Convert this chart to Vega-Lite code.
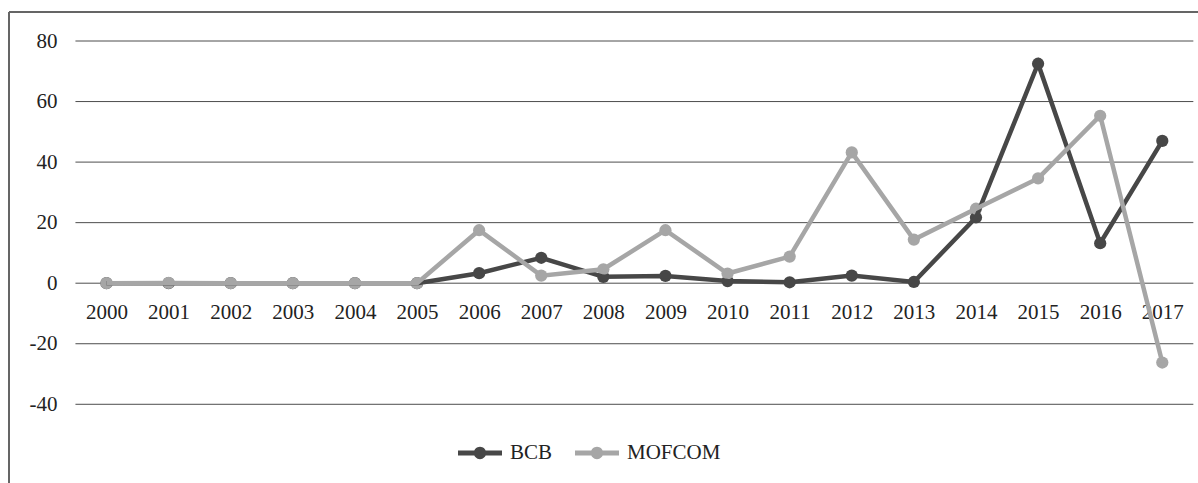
{
  "$schema": "https://vega.github.io/schema/vega-lite/v6.json",
  "width": 1189,
  "height": 471,
  "autosize": "none",
  "padding": {"left": 9, "top": 12, "right": 0, "bottom": 0},
  "background": "white",
  "config": {"view": {"stroke": null}, "font": "Liberation Serif"},
  "data": {"values": [
    {"year": 2000, "series": "BCB", "value": 0},
    {"year": 2001, "series": "BCB", "value": 0},
    {"year": 2002, "series": "BCB", "value": 0},
    {"year": 2003, "series": "BCB", "value": 0},
    {"year": 2004, "series": "BCB", "value": 0},
    {"year": 2005, "series": "BCB", "value": 0},
    {"year": 2006, "series": "BCB", "value": 3.3},
    {"year": 2007, "series": "BCB", "value": 8.4},
    {"year": 2008, "series": "BCB", "value": 2.1},
    {"year": 2009, "series": "BCB", "value": 2.4},
    {"year": 2010, "series": "BCB", "value": 0.7},
    {"year": 2011, "series": "BCB", "value": 0.3},
    {"year": 2012, "series": "BCB", "value": 2.5},
    {"year": 2013, "series": "BCB", "value": 0.4},
    {"year": 2014, "series": "BCB", "value": 21.7},
    {"year": 2015, "series": "BCB", "value": 72.5},
    {"year": 2016, "series": "BCB", "value": 13.2},
    {"year": 2017, "series": "BCB", "value": 47.0},
    {"year": 2000, "series": "MOFCOM", "value": 0},
    {"year": 2001, "series": "MOFCOM", "value": 0.1},
    {"year": 2002, "series": "MOFCOM", "value": 0},
    {"year": 2003, "series": "MOFCOM", "value": 0},
    {"year": 2004, "series": "MOFCOM", "value": 0},
    {"year": 2005, "series": "MOFCOM", "value": 0},
    {"year": 2006, "series": "MOFCOM", "value": 17.5},
    {"year": 2007, "series": "MOFCOM", "value": 2.5},
    {"year": 2008, "series": "MOFCOM", "value": 4.6},
    {"year": 2009, "series": "MOFCOM", "value": 17.5},
    {"year": 2010, "series": "MOFCOM", "value": 3.2},
    {"year": 2011, "series": "MOFCOM", "value": 8.8},
    {"year": 2012, "series": "MOFCOM", "value": 43.2},
    {"year": 2013, "series": "MOFCOM", "value": 14.4},
    {"year": 2014, "series": "MOFCOM", "value": 24.6},
    {"year": 2015, "series": "MOFCOM", "value": 34.6},
    {"year": 2016, "series": "MOFCOM", "value": 55.3},
    {"year": 2017, "series": "MOFCOM", "value": -26.2}
  ]},
  "layer": [
    {
      "data": {"values": [{"g": -40}, {"g": -20}, {"g": 0}, {"g": 20}, {"g": 40}, {"g": 60}, {"g": 80}]},
      "mark": {"type": "rule", "color": "#4d4d4d", "strokeWidth": 1},
      "encoding": {
        "y": {"field": "g", "type": "quantitative",
          "scale": {"domain": [-66.0, 89.58], "nice": false, "zero": false},
          "axis": {"values": [-40, -20, 0, 20, 40, 60, 80], "labelExpr": "'' + datum.value", "domain": false, "ticks": false, "tickSize": 0, "grid": false,
            "labelPadding": -48, "labelAlign": "right", "labelFontSize": 21, "labelColor": "#222222", "labelFont": "Liberation Serif", "title": null}},
        "x": {"datum": 1999.5, "type": "quantitative", "scale": {"domain": [1998.43, 2017.575], "nice": false, "zero": false}},
        "x2": {"datum": 2017.5}
      }
    },
    {
      "mark": {"type": "rule", "color": "#666666", "strokeWidth": 1.5},
      "encoding": {
        "y": {"datum": 89.58, "type": "quantitative", "scale": {"domain": [-66.0, 89.58], "nice": false, "zero": false}}
      }
    },
    {
      "mark": {"type": "rule", "color": "#666666", "strokeWidth": 1.5},
      "encoding": {
        "x": {"datum": 1998.43, "type": "quantitative", "scale": {"domain": [1998.43, 2017.575], "nice": false, "zero": false}}
      }
    },
    {
      "mark": {"type": "point", "filled": true, "size": 150, "opacity": 1},
      "encoding": {
        "x": {"field": "year", "type": "quantitative",
          "scale": {"domain": [1998.43, 2017.575], "nice": false, "zero": false},
          "axis": {"values": [2000, 2001, 2002, 2003, 2004, 2005, 2006, 2007, 2008, 2009, 2010, 2011, 2012, 2013, 2014, 2015, 2016, 2017],
            "format": "d", "domain": false, "ticks": false, "tickSize": 0, "grid": false, "offset": -200,
            "labelPadding": 35, "labelBaseline": "alphabetic", "labelFontSize": 21, "labelColor": "#222222", "labelFont": "Liberation Serif",
            "labelOverlap": false, "labelFlush": false, "title": null}},
        "y": {"field": "value", "type": "quantitative", "scale": {"domain": [-66.0, 89.58], "nice": false, "zero": false}},
        "color": {"field": "series", "type": "nominal",
          "scale": {"domain": ["BCB", "MOFCOM"], "range": ["#474747", "#a6a6a6"]},
          "legend": {"orient": "none", "legendX": 449, "legendY": 419, "direction": "horizontal", "title": null,
            "symbolType": "M-1,-0.11L1,-0.11L1,0.11L-1,0.11Z M-0.28,0A0.28,0.28,0,1,1,0.28,0A0.28,0.28,0,1,1,-0.28,0Z",
            "symbolSize": 1936, "symbolStrokeWidth": 0, "symbolOpacity": 1,
            "labelFontSize": 21, "labelFont": "Liberation Serif", "labelColor": "#222222", "labelOffset": 8, "columnPadding": 22}}
      }
    },
    {
      "mark": {"type": "line", "strokeWidth": 4.5},
      "encoding": {
        "x": {"field": "year", "type": "quantitative", "scale": {"domain": [1998.43, 2017.575], "nice": false, "zero": false}},
        "y": {"field": "value", "type": "quantitative", "scale": {"domain": [-66.0, 89.58], "nice": false, "zero": false}},
        "color": {"field": "series", "type": "nominal"}
      }
    }
  ]
}
